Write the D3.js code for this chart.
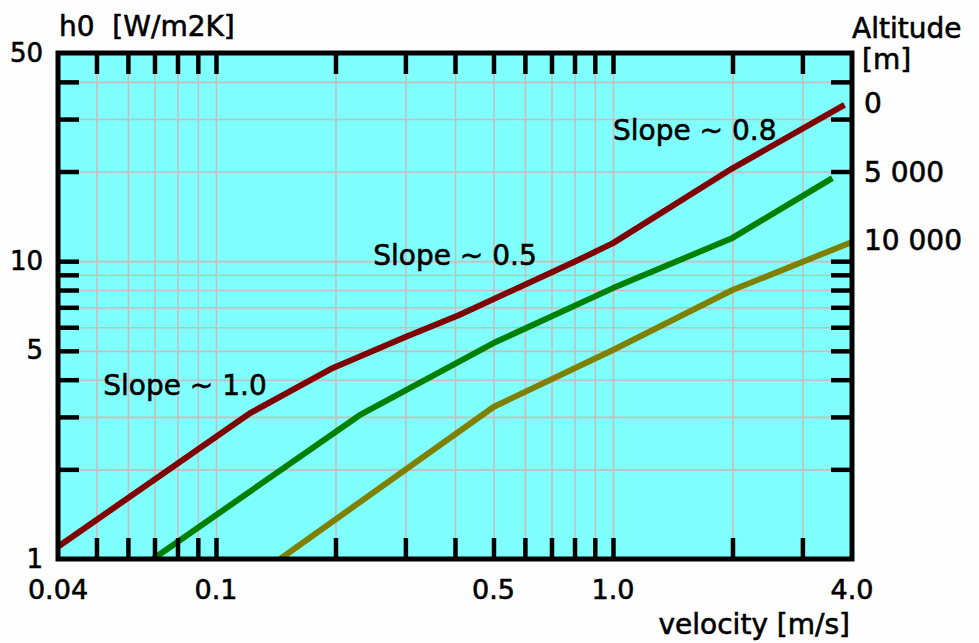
<!DOCTYPE html>
<html>
<head>
<meta charset="utf-8">
<script src="https://cdn.jsdelivr.net/npm/d3@7"></script>
<style>
  body { margin: 0; background: #fefefe; }
  text { font-family: "DejaVu Sans", sans-serif; fill: #000; stroke: #000; stroke-width: 0.6px; }
  .grid line { stroke: #c9bcbc; stroke-width: 1.6; }
  .grid path, .ticks path { display: none; }
  .ticks line { stroke: #000; stroke-width: 4.5; }
</style>
</head>
<body>
<svg width="979" height="643"></svg>
<script>
var svg = d3.select("svg"),
    margin = {top: 53, right: 127, bottom: 84, left: 58},
    width = +svg.attr("width") - margin.left - margin.right,
    height = +svg.attr("height") - margin.top - margin.bottom;

// velocity [m/s] vs h0 [W/m2K], one series per altitude
var alt0 = [[0.04, 1.10], [0.122, 3.09], [0.197, 4.38], [0.3, 5.56],
            [0.41, 6.6], [0.8, 9.95], [1.0, 11.5], [2.0, 20.5], [3.83, 33.5]];
var alt5000 = [[0.0694, 1.0], [0.23, 3.04], [0.5, 5.31], [1.0, 8.12],
               [2.0, 11.97], [3.57, 19.0]];
var alt10000 = [[0.145, 1.0], [0.5, 3.24], [1.0, 5.03], [2.0, 8.0], [4.0, 11.6]];

var series = [
  {name: "0", values: alt0, color: "#800000", label: 34},
  {name: "5 000", values: alt5000, color: "#008000", label: 20},
  {name: "10 000", values: alt10000, color: "#808000", label: 11.8}
];

var xTicks = [0.05, 0.06, 0.07, 0.08, 0.09, 0.1, 0.2, 0.3, 0.4, 0.5, 0.6, 0.7, 0.8, 0.9, 1.0, 2, 3];
var yTicks = [2, 3, 4, 5, 6, 7, 8, 9, 10, 20, 30, 40];
var xLabels = [0.04, 0.1, 0.5, 1.0, 4.0];
var xLabelText = ["0.04", "0.1", "0.5", "1.0", "4.0"];
var yLabels = [1, 5, 10, 50];

var notes = [
  {text: "Slope ~ 1.0", x: 0.052, y: 3.55},
  {text: "Slope ~ 0.5", x: 0.249, y: 9.7},
  {text: "Slope ~ 0.8", x: 1.0, y: 25.5}
];

var x = d3.scaleLog().domain([0.04, 4]).range([0, width]);
var y = d3.scaleLog().domain([1, 50]).range([height, 0]);

var g = svg.append("g").attr("transform", "translate(" + margin.left + "," + margin.top + ")");

g.append("rect").attr("width", width).attr("height", height).style("fill", "#80ffff");

// grid
g.append("g").attr("class", "grid")
    .attr("transform", "translate(0," + height + ")")
    .call(d3.axisBottom(x).tickValues(xTicks).tickSize(-height).tickFormat(""));
g.append("g").attr("class", "grid")
    .call(d3.axisLeft(y).tickValues(yTicks).tickSize(-width).tickFormat(""));

// curves
g.append("clipPath").attr("id", "clip")
  .append("rect").attr("width", width).attr("height", height);

var line = d3.line()
    .x(function(d) { return x(d[0]); })
    .y(function(d) { return y(d[1]); });

g.append("g").attr("clip-path", "url(#clip)")
  .selectAll("path")
  .data(series)
  .enter().append("path")
    .attr("d", function(d) { return line(d.values); })
    .style("fill", "none")
    .style("stroke", function(d) { return d.color; })
    .style("stroke-width", 6)
    .style("stroke-linejoin", "round");

// thick inward ticks on all four sides
var tl = 21;
g.append("g").attr("class", "ticks")
    .attr("transform", "translate(0," + height + ")")
    .call(d3.axisBottom(x).tickValues(xTicks).tickSize(-tl).tickFormat(""));
g.append("g").attr("class", "ticks")
    .call(d3.axisTop(x).tickValues(xTicks).tickSize(-tl).tickFormat(""));
g.append("g").attr("class", "ticks")
    .call(d3.axisLeft(y).tickValues(yTicks).tickSize(-tl).tickFormat(""));
g.append("g").attr("class", "ticks")
    .attr("transform", "translate(" + width + ",0)")
    .call(d3.axisRight(y).tickValues(yTicks).tickSize(-tl).tickFormat(""));

g.append("rect").attr("width", width).attr("height", height)
    .style("fill", "none").style("stroke", "#000").style("stroke-width", 5);

// tick labels
g.selectAll(".xlab")
  .data(xLabels)
  .enter().append("text")
    .attr("x", function(d) { return x(d); })
    .attr("y", height + 40)
    .attr("text-anchor", "middle")
    .style("font-size", "27px")
    .text(function(d, i) { return xLabelText[i]; });

g.selectAll(".ylab")
  .data(yLabels)
  .enter().append("text")
    .attr("x", -15)
    .attr("y", function(d) { return y(d); })
    .attr("dy", "0.33em")
    .attr("text-anchor", "end")
    .style("font-size", "26px")
    .text(function(d) { return d; });

// altitude labels
g.selectAll(".alt")
  .data(series)
  .enter().append("text")
    .attr("x", width + 12)
    .attr("y", function(d) { return y(d.label); })
    .attr("dy", "0.36em")
    .style("font-size", "28px")
    .text(function(d) { return d.name; });

g.selectAll(".note")
  .data(notes)
  .enter().append("text")
    .attr("x", function(d) { return x(d.x); })
    .attr("y", function(d) { return y(d.y); })
    .style("font-size", "28px")
    .text(function(d) { return d.text; });

// axis titles
svg.append("text").attr("x", 59).attr("y", 36)
    .style("font-size", "28px").style("white-space", "pre")
    .text("h0  [W/m2K]");
svg.append("text").attr("x", 852).attr("y", 38)
    .style("font-size", "28px").text("Altitude");
svg.append("text").attr("x", 862).attr("y", 69)
    .style("font-size", "28px").text("[m]");
svg.append("text").attr("x", 850).attr("y", 634)
    .attr("text-anchor", "end")
    .style("font-size", "28px").text("velocity [m/s]");
</script>
</body>
</html>
